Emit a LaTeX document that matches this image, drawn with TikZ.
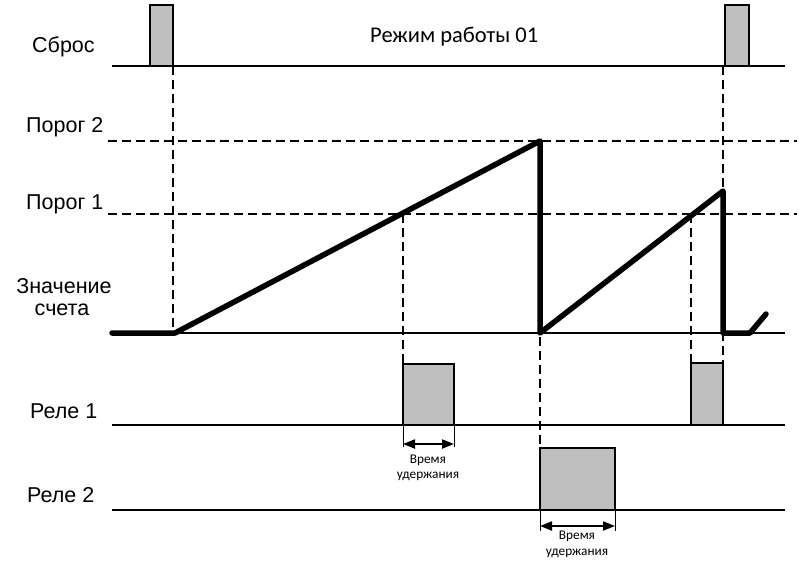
\documentclass[tikz,border=0pt]{standalone}
\usepackage{fontspec}
\setmainfont{Liberation Sans}
\newfontfamily\calib{Carlito}
\usetikzlibrary{arrows.meta}
\begin{document}
\begin{tikzpicture}[x=1pt,y=-1pt,
  axis/.style={line width=2pt},
  pulse/.style={draw=black,fill=black!25,line width=2.5pt},
  guide/.style={line width=1.3pt,dash pattern=on 9pt off 5pt},
  count/.style={line width=5.5pt,line cap=round,line join=round},
  lab/.style={font=\fontsize{21.5}{26}\selectfont,inner sep=0pt,anchor=base west},
  title/.style={font=\calib\fontsize{22.5}{27}\selectfont,inner sep=0pt,anchor=base west},
  tick/.style={line width=1pt},
  dimarrow/.style={line width=2pt,{Triangle[length=12pt,width=9pt]}-{Triangle[length=12pt,width=9pt]}},
  small/.style={font=\calib\fontsize{13.3}{16}\selectfont,inner sep=0pt,anchor=base}
]
\useasboundingbox (0,0) rectangle (800,566);

% labels
\node[lab] (lreset) at (32,52) {Сброс};
\node[lab] (lp2) at (26,132) {Порог 2};
\node[lab] (lp1) at (26,209) {Порог 1};
\node[lab,anchor=base] (lcnt1) at (64,293) {Значение};
\node[lab,anchor=base] (lcnt2) at (62,315) {счета};
\node[lab] (lr1) at (30,418) {Реле 1};
\node[lab] (lr2) at (27,502) {Реле 2};
\node[title] (ltitle) at (370,42) {Режим работы 01};

% guide coordinates
\coordinate (g1a) at (173,66);  \coordinate (g1b) at (173,333);
\coordinate (g2a) at (403,214); \coordinate (g2b) at (403,364);
\coordinate (g3a) at (540,141); \coordinate (g3b) at (540,448);
\coordinate (g4a) at (691,214); \coordinate (g4b) at (691,363);
\coordinate (g5a) at (723,66);  \coordinate (g5b) at (723,363);
\coordinate (p2a) at (108,141); \coordinate (p2b) at (797,141);
\coordinate (p1a) at (108,214); \coordinate (p1b) at (797,214);

\draw[guide] (p2a) -- (p2b);
\draw[guide] (p1a) -- (p1b);
\draw[guide] (g1a) -- (g1b);
\draw[guide] (g2a) -- (g2b);
\draw[guide] (g3a) -- (g3b);
\draw[guide] (g4a) -- (g4b);
\draw[guide] (g5a) -- (g5b);

% axes
\coordinate (ra) at (112,66);  \coordinate (rb) at (785,66);
\coordinate (ca) at (112,333); \coordinate (cb) at (785,333);
\coordinate (r1a) at (112,425); \coordinate (r1b) at (785,425);
\coordinate (r2a) at (112,510); \coordinate (r2b) at (785,510);
\draw[axis] (ra) -- (rb);
\draw[axis] (ca) -- (cb);
\draw[axis] (r1a) -- (r1b);
\draw[axis] (r2a) -- (r2b);

% pulses
\draw[pulse] (150,66) rectangle (173,5);
\draw[pulse] (725,66) rectangle (749,5);
\draw[pulse] (403,425) rectangle (454,364);
\draw[pulse] (691,425) rectangle (723,363);
\draw[pulse] (540,510) rectangle (615,448);

% counter value
\coordinate (c0) at (112,333);
\coordinate (c1) at (175,333);
\coordinate (c2) at (540,141);
\coordinate (c3) at (540,333);
\coordinate (c4) at (723,191);
\coordinate (c5) at (723,333);
\coordinate (c6) at (750,333);
\coordinate (c7) at (766,314);
\draw[count] (c0) -- (c1) -- (c2) -- (c3) -- (c4) -- (c5) -- (c6) -- (c7);

% hold time 1
\coordinate (t1a) at (403,425); \coordinate (t1b) at (403,447);
\coordinate (t1c) at (454,425); \coordinate (t1d) at (454,447);
\draw[tick] (t1a) -- (t1b);
\draw[tick] (t1c) -- (t1d);
\coordinate (a1a) at (403,444); \coordinate (a1b) at (454,444);
\draw[dimarrow] (a1a) -- (a1b);
\node[small] (h1a) at (428,463) {Время};
\node[small] (h1b) at (428,478) {удержания};

% hold time 2
\coordinate (t2a) at (540,510); \coordinate (t2b) at (540,531);
\coordinate (t2c) at (615,510); \coordinate (t2d) at (615,531);
\draw[tick] (t2a) -- (t2b);
\draw[tick] (t2c) -- (t2d);
\coordinate (a2a) at (540,526); \coordinate (a2b) at (615,526);
\draw[dimarrow] (a2a) -- (a2b);
\node[small] (h2a) at (577,539) {Время};
\node[small] (h2b) at (577,555) {удержания};
\end{tikzpicture}
\end{document}
